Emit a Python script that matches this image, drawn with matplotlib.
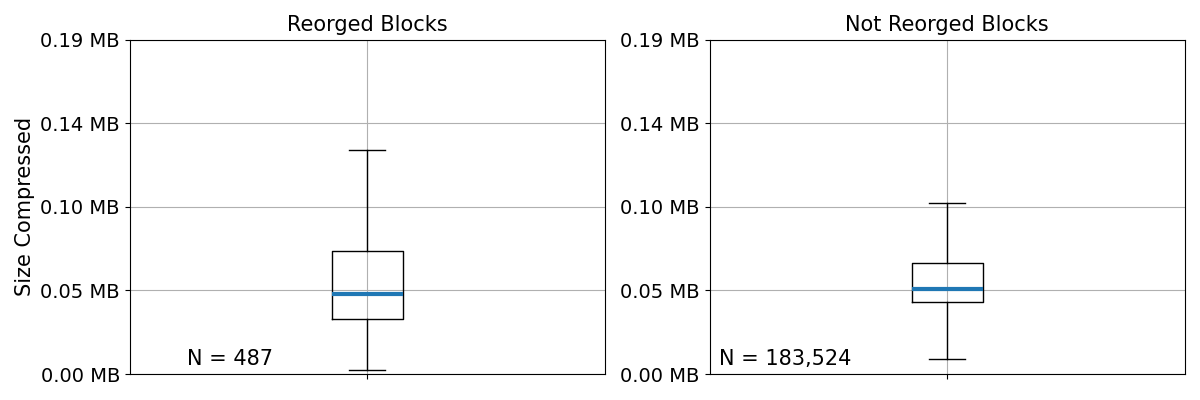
import matplotlib
matplotlib.use("Agg")
import matplotlib.pyplot as plt
from matplotlib.ticker import FuncFormatter

# box stats in bytes
titles = ["Reorged Blocks", "Not Reorged Blocks"]
counts = [487, 183524]
whislo = [2400, 8800]
q1 = [32900, 42900]
med = [47900, 51100]
q3 = [73600, 66300]
whishi = [134000, 102400]

text_x = [0.12, 0.02]

fig, axes = plt.subplots(1, 2, figsize=(12, 4), dpi=100)
fig.subplots_adjust(left=0.108, right=0.9875, bottom=0.065, top=0.901, wspace=0.22)

mb = FuncFormatter(lambda v, pos: f"{v / 1024 / 1024:.2f} MB")

for i, ax in enumerate(axes):
    stats = [{
        "whislo": whislo[i], "q1": q1[i], "med": med[i],
        "q3": q3[i], "whishi": whishi[i], "fliers": [],
    }]
    ax.bxp(stats, showfliers=False,
           medianprops=dict(color="tab:blue", linewidth=3))
    ax.set_ylim(0, 200000)
    ax.set_yticks([0, 50000, 100000, 150000, 200000])
    ax.yaxis.set_major_formatter(mb)
    ax.set_xticklabels([""])
    ax.tick_params(axis="y", labelsize=14)
    ax.grid(True)
    ax.set_title(titles[i], fontsize=15)
    ax.text(text_x[i], 0.015, f"N = {counts[i]:,}", transform=ax.transAxes,
            fontsize=15, va="bottom", ha="left")

axes[0].set_ylabel("Size Compressed", fontsize=15)

plt.savefig("out.png")
